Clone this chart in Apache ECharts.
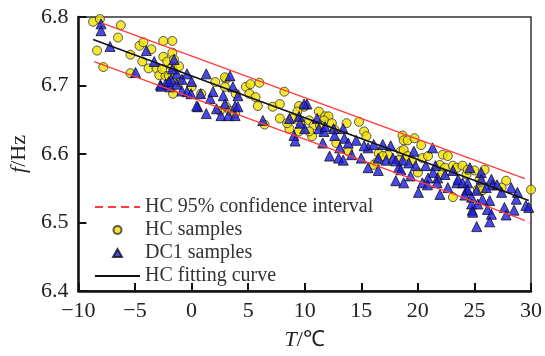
<!DOCTYPE html>
<html><head><meta charset="utf-8">
<script src="https://cdn.jsdelivr.net/npm/echarts@6/dist/echarts.min.js"></script>
<style>html,body{margin:0;padding:0;background:#fff}#c{width:545px;height:356px}</style>
</head><body><div id="c"></div>
<script>
const hcSamples = [
[-8.7,6.793],[-8.1,6.797],[-6.25,6.788],[-6.5,6.770],[-8.35,6.751],[-7.8,6.727],[-5.4,6.745],[-4.6,6.758],[-4.25,6.763],[-3.55,6.753],[-4.35,6.735],[-3.8,6.725],[-3.1,6.725],[-2.85,6.715],[-5.4,6.718],[-2.5,6.765],[-1.7,6.765],[-2.5,6.742],[-2.15,6.735],[-1.7,6.748],[-2.3,6.714],[-1.64,6.688],[-1.55,6.738],[-1.72,6.727],[-1.1,6.728],[-2.0,6.714],[-2.6,6.724],
[-1.11,6.705],[0.0,6.698],[0.85,6.688],[2.1,6.705],[3.05,6.709],[2.95,6.698],[3.9,6.688],[4.8,6.698],[3.05,6.669],[3.4,6.663],[2.5,6.663],[3.85,6.659],[2.95,6.712],[5.2,6.702],[6.0,6.704],[5.1,6.688],[5.65,6.683],[5.86,6.670],[7.17,6.669],[7.8,6.673],[8.2,6.691],[7.8,6.652],[6.45,6.643],[9.5,6.670],[9.95,6.669],[9.35,6.662],[8.9,6.652],[8.65,6.637],[9.6,6.647],[10.4,6.649],[11.25,6.662],[11.8,6.655],[10.8,6.642],[10.65,6.626],[9.5,6.633],[8.45,6.645],[10.4,6.633],
[12.1,6.655],[11.7,6.649],[11.35,6.642],[12.4,6.645],[12.65,6.635],[13.7,6.645],[14.8,6.647],[15.25,6.633],[15.45,6.626],[12.8,6.616],[13.85,6.604],[16.55,6.601],[16.3,6.587],[17.35,6.599],[16.9,6.597],[18.65,6.627],[18.75,6.620],[18.5,6.604],[16.1,6.584],
[19.1,6.620],[19.7,6.623],[18.75,6.606],[19.1,6.597],[18.3,6.591],[19.5,6.590],[20.4,6.594],[20.9,6.597],[22.2,6.599],[22.65,6.597],[20.0,6.573],[21.95,6.584],[22.4,6.580],[23.1,6.583],[22.1,6.570],[23.45,6.580],[23.95,6.583],[23.1,6.537],[24.3,6.570],[20.3,6.613],
[24.4,6.577],[25.0,6.576],[25.9,6.577],[25.45,6.563],[25.3,6.548],[25.7,6.547],[27.8,6.561],[27.4,6.551],[30.0,6.548]
];
const dc1Samples = [
[-8.0,6.790],[-8.0,6.780],[-7.2,6.757],[-4.0,6.751],[-3.3,6.735],[-4.95,6.719],[-2.75,6.701],[-2.3,6.702],[-1.55,6.738],[-1.8,6.709],[-1.3,6.717],[0.55,6.669],[-0.4,6.691],[-1.9,6.698],
[-1.7,6.724],[-2.0,6.706],[-2.7,6.699],[-1.3,6.702],[-0.85,6.709],[-0.4,6.717],[0.0,6.706],[-0.85,6.692],[-0.05,6.688],[0.8,6.688],[0.45,6.670],[1.3,6.717],[1.65,6.681],[1.3,6.659],[1.9,6.691],[2.2,6.666],[2.6,6.656],[2.8,6.685],[3.4,6.714],[2.95,6.673],[3.25,6.656],[3.85,6.670],[4.1,6.685],[3.85,6.656],[3.65,6.698],[6.3,6.649],
[4.1,6.669],[8.65,6.652],[10.2,6.673],[9.95,6.673],[9.5,6.655],[9.05,6.627],[9.15,6.619],[10.0,6.637],[11.1,6.652],[11.25,6.637],[11.7,6.633],[9.6,6.645],
[11.8,6.640],[12.55,6.637],[13.4,6.637],[12.65,6.627],[13.5,6.623],[14.55,6.620],[11.6,6.616],[13.1,6.609],[13.85,6.616],[12.2,6.597],[13.0,6.594],[13.4,6.591],[14.15,6.599],[15.0,6.594],[15.6,6.609],[15.25,6.612],[16.1,6.614],[16.9,6.614],[16.5,6.594],[17.2,6.591],[17.8,6.594],[15.6,6.580],[16.5,6.576],[18.05,6.561],[18.75,6.558],[18.3,6.580],[17.6,6.612],
[21.3,6.609],[19.65,6.604],[18.65,6.591],[18.05,6.590],[19.2,6.587],[19.8,6.583],[20.7,6.583],[18.5,6.577],[21.55,6.583],[21.35,6.573],[20.9,6.565],[19.35,6.568],[20.4,6.558],[21.75,6.565],[22.4,6.570],[23.1,6.576],[23.45,6.558],[22.65,6.551],[21.7,6.558],[20.05,6.544],[20.85,6.555],[21.95,6.541],[23.55,6.563],[23.95,6.558],[24.4,6.558],[24.6,6.580],[24.3,6.547],[24.75,6.537],[24.8,6.518],
[25.6,6.573],[25.6,6.563],[26.5,6.563],[26.6,6.555],[24.4,6.548],[25.2,6.547],[26.05,6.551],[27.0,6.555],[27.4,6.544],[28.25,6.551],[28.7,6.534],[28.8,6.544],[29.55,6.525],[29.8,6.522],[24.75,6.527],[25.3,6.527],[26.35,6.532],[26.15,6.519],[26.5,6.512],[26.35,6.501],[27.65,6.522],[27.8,6.511],[28.5,6.518],[24.85,6.515],[25.2,6.494],[24.15,6.540],[25.7,6.534]
];
const fitCurve = [[-8.7,6.767],[29.8,6.532]];
const ciUpperSolid = [[-7.9,6.791],[28.8,6.568]];
const ciUpperTail = [[28.8,6.568],[30,6.561]];
const ciLowerSolid = [[-8.6,6.735],[28.8,6.507]];
const ciLowerTail = [[28.8,6.507],[30,6.499]];
const legendNames = ['HC 95% confidence interval','HC samples','DC1 samples','HC fitting curve'];

const FONT = 'Liberation Serif';
const chart = echarts.init(document.getElementById('c'), null, {renderer:'canvas'});
const RED = '#ff3b3b';
const redSolid = {color:RED, width:1.3};
const redDash = {color:RED, width:1.3, type:[8,5]};
const hiddenDot = {color:'rgba(0,0,0,0)', borderWidth:0, borderColor:'rgba(0,0,0,0)'};
chart.setOption({
  animation:false,
  grid:{left:73,right:13,top:17,bottom:61,show:true,borderColor:'#333',borderWidth:1.5},
  xAxis:{type:'value',min:-10,max:30,interval:5,
    name:'{i|T}/℃',nameLocation:'middle',nameGap:38,
    nameTextStyle:{fontFamily:FONT,fontSize:22,color:'#222',rich:{i:{fontFamily:FONT,fontSize:22,fontStyle:'italic',color:'#222'}}},
    axisLine:{onZero:false,lineStyle:{color:'#111',width:2.5}},
    axisTick:{inside:true,length:8,lineStyle:{color:'#111',width:2}},
    splitLine:{show:false},
    axisLabel:{fontFamily:FONT,fontSize:22,color:'#222',margin:9,formatter:v=>String(v).replace('-','\u2212')}},
  yAxis:{type:'value',min:6.4,max:6.8,interval:0.1,
    name:'{i|f}/Hz',nameLocation:'middle',nameGap:44,
    nameTextStyle:{fontFamily:FONT,fontSize:22,color:'#222',rich:{i:{fontFamily:FONT,fontSize:22,fontStyle:'italic',color:'#222'}}},
    axisLine:{show:true,onZero:false,lineStyle:{color:'#111',width:2.5}},
    axisTick:{show:true,inside:true,length:8,lineStyle:{color:'#111',width:2}},
    splitLine:{show:false},
    axisLabel:{fontFamily:FONT,fontSize:22,color:'#222',margin:10,formatter:v=>v.toFixed(1)}},
  legend:{orient:'vertical',left:89,top:192,itemWidth:45,itemHeight:8,itemGap:3,symbolKeepAspect:true,
    data:[
      {name:legendNames[0],itemStyle:hiddenDot},
      {name:legendNames[1]},
      {name:legendNames[2],icon:'path://M5,0 L10,9 L0,9 Z'},
      {name:legendNames[3],itemStyle:hiddenDot}
    ],
    textStyle:{fontFamily:FONT,fontSize:20,color:'#333',lineHeight:20},selectedMode:false},
  series:[
    {name:'HC samples',type:'scatter',data:hcSamples,symbol:'circle',symbolSize:9,z:2,
     itemStyle:{color:'#f2e000',borderColor:'#333',borderWidth:1}},
    {name:'DC1 samples',type:'scatter',data:dc1Samples,symbol:'triangle',symbolSize:10,z:3,
     itemStyle:{color:'#1a1ae6',borderColor:'#111',borderWidth:1}},
    {name:'HC fitting curve',type:'line',data:fitCurve,symbol:'none',z:4,itemStyle:{color:'#111'},lineStyle:{color:'#111',width:1.6}},
    {name:'HC 95% confidence interval',type:'line',data:ciUpperTail,symbol:'none',z:4,itemStyle:{color:RED},lineStyle:redDash},
    {name:'HC 95% confidence interval',type:'line',data:ciLowerTail,symbol:'none',z:4,itemStyle:{color:RED},lineStyle:redDash},
    {name:'ciUpper',type:'line',data:ciUpperSolid,symbol:'none',z:4,itemStyle:{color:RED},lineStyle:redSolid},
    {name:'ciLower',type:'line',data:ciLowerSolid,symbol:'none',z:4,itemStyle:{color:RED},lineStyle:redSolid}
  ]
});
</script></body></html>
